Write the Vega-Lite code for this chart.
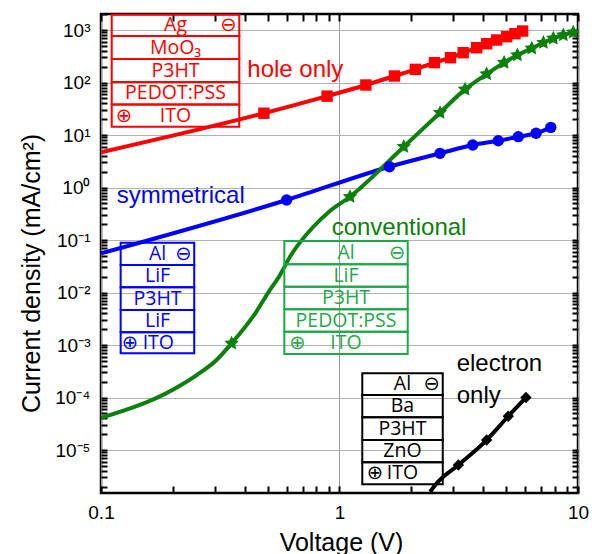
{
  "$schema": "https://vega.github.io/schema/vega-lite/v6.json",
  "width": 477,
  "height": 479,
  "autosize": "none",
  "padding": {"left": 101, "top": 14, "right": 19, "bottom": 61},
  "config": {"view": {"stroke": "black", "strokeWidth": 2.5}, "background": "white", "axis": {"ticks": true, "tickOpacity": 1}},
  "datasets": {
    "curves": [
      {"s": "hole", "V": 0.1, "J": 4.7}, {"s": "hole", "V": 0.482, "J": 26}, {"s": "hole", "V": 0.887, "J": 55}, {"s": "hole", "V": 1.29, "J": 89.6}, {"s": "hole", "V": 1.70, "J": 133}, {"s": "hole", "V": 2.08, "J": 178}, {"s": "hole", "V": 2.50, "J": 239}, {"s": "hole", "V": 2.92, "J": 297}, {"s": "hole", "V": 3.30, "J": 370}, {"s": "hole", "V": 3.76, "J": 460}, {"s": "hole", "V": 4.14, "J": 548}, {"s": "hole", "V": 4.56, "J": 645}, {"s": "hole", "V": 5.02, "J": 746}, {"s": "hole", "V": 5.44, "J": 851}, {"s": "hole", "V": 5.86, "J": 957},
      {"s": "sym", "V": 0.1, "J": 0.0557}, {"s": "sym", "V": 0.60, "J": 0.578}, {"s": "sym", "V": 1.62, "J": 2.49}, {"s": "sym", "V": 2.64, "J": 4.48}, {"s": "sym", "V": 3.62, "J": 6.45}, {"s": "sym", "V": 4.63, "J": 7.8}, {"s": "sym", "V": 5.62, "J": 9.3}, {"s": "sym", "V": 6.67, "J": 10.8}, {"s": "sym", "V": 7.69, "J": 14.0},
      {"s": "conv", "V": 0.1, "J": 4.1e-5}, {"s": "conv", "V": 0.201, "J": 1.43e-4}, {"s": "conv", "V": 0.252, "J": 2.68e-4}, {"s": "conv", "V": 0.305, "J": 5.2e-4}, {"s": "conv", "V": 0.353, "J": 1.08e-3}, {"s": "conv", "V": 0.447, "J": 4.25e-3}, {"s": "conv", "V": 0.501, "J": 9.77e-3}, {"s": "conv", "V": 0.563, "J": 0.0216}, {"s": "conv", "V": 0.62, "J": 0.048}, {"s": "conv", "V": 0.777, "J": 0.179}, {"s": "conv", "V": 0.912, "J": 0.357}, {"s": "conv", "V": 1.107, "J": 0.668}, {"s": "conv", "V": 1.86, "J": 6.0}, {"s": "conv", "V": 2.64, "J": 26.6}, {"s": "conv", "V": 3.36, "J": 74}, {"s": "conv", "V": 4.14, "J": 145}, {"s": "conv", "V": 4.90, "J": 239}, {"s": "conv", "V": 5.57, "J": 334}, {"s": "conv", "V": 6.40, "J": 448}, {"s": "conv", "V": 7.16, "J": 573}, {"s": "conv", "V": 7.88, "J": 693}, {"s": "conv", "V": 8.68, "J": 803}, {"s": "conv", "V": 9.55, "J": 904}, {"s": "conv", "V": 10, "J": 950},
      {"s": "elec", "V": 2.40, "J": 1.6e-6}, {"s": "elec", "V": 2.55, "J": 2.3e-6}, {"s": "elec", "V": 3.15, "J": 5.2e-6}, {"s": "elec", "V": 4.14, "J": 1.55e-5}, {"s": "elec", "V": 5.10, "J": 4.4e-5}, {"s": "elec", "V": 6.05, "J": 1.0e-4}
    ],
    "markers": [
      {"s": "hole", "V": 0.482, "J": 26}, {"s": "hole", "V": 0.887, "J": 55}, {"s": "hole", "V": 1.29, "J": 89.6}, {"s": "hole", "V": 1.70, "J": 133}, {"s": "hole", "V": 2.08, "J": 178}, {"s": "hole", "V": 2.50, "J": 239}, {"s": "hole", "V": 2.92, "J": 297}, {"s": "hole", "V": 3.30, "J": 370}, {"s": "hole", "V": 3.76, "J": 460}, {"s": "hole", "V": 4.14, "J": 548}, {"s": "hole", "V": 4.56, "J": 645}, {"s": "hole", "V": 5.02, "J": 746}, {"s": "hole", "V": 5.44, "J": 851}, {"s": "hole", "V": 5.86, "J": 957},
      {"s": "sym", "V": 0.60, "J": 0.578}, {"s": "sym", "V": 1.62, "J": 2.49}, {"s": "sym", "V": 2.64, "J": 4.48}, {"s": "sym", "V": 3.62, "J": 6.45}, {"s": "sym", "V": 4.63, "J": 7.8}, {"s": "sym", "V": 5.62, "J": 9.3}, {"s": "sym", "V": 6.67, "J": 10.8}, {"s": "sym", "V": 7.69, "J": 14.0},
      {"s": "conv", "V": 0.353, "J": 1.08e-3}, {"s": "conv", "V": 1.107, "J": 0.668}, {"s": "conv", "V": 1.86, "J": 6.0}, {"s": "conv", "V": 2.64, "J": 26.6}, {"s": "conv", "V": 3.36, "J": 74}, {"s": "conv", "V": 4.14, "J": 145}, {"s": "conv", "V": 4.90, "J": 239}, {"s": "conv", "V": 5.57, "J": 334}, {"s": "conv", "V": 6.40, "J": 448}, {"s": "conv", "V": 7.16, "J": 573}, {"s": "conv", "V": 7.88, "J": 693}, {"s": "conv", "V": 8.68, "J": 803}, {"s": "conv", "V": 9.55, "J": 904},
      {"s": "elec", "V": 3.15, "J": 5.2e-6}, {"s": "elec", "V": 4.14, "J": 1.55e-5}, {"s": "elec", "V": 5.10, "J": 4.4e-5}, {"s": "elec", "V": 6.05, "J": 1.0e-4}
    ],
    "boxes": [
      {"g": "hole", "V1": 0.1109, "V2": 0.380, "J1": 1950, "J2": 769}, {"g": "hole", "V1": 0.1109, "V2": 0.380, "J1": 769, "J2": 281}, {"g": "hole", "V1": 0.1109, "V2": 0.380, "J1": 281, "J2": 102}, {"g": "hole", "V1": 0.1109, "V2": 0.380, "J1": 102, "J2": 38.1}, {"g": "hole", "V1": 0.1109, "V2": 0.380, "J1": 38.1, "J2": 14.4},
      {"g": "sym", "V1": 0.1209, "V2": 0.246, "J1": 0.0889, "J2": 0.0334}, {"g": "sym", "V1": 0.1209, "V2": 0.246, "J1": 0.0334, "J2": 0.01256}, {"g": "sym", "V1": 0.1209, "V2": 0.246, "J1": 0.01256, "J2": 0.00464}, {"g": "sym", "V1": 0.1209, "V2": 0.246, "J1": 0.00464, "J2": 0.001745}, {"g": "sym", "V1": 0.1209, "V2": 0.246, "J1": 0.001745, "J2": 0.000695},
      {"g": "convbox", "V1": 0.587, "V2": 1.932, "J1": 0.0957, "J2": 0.0344}, {"g": "convbox", "V1": 0.587, "V2": 1.932, "J1": 0.0344, "J2": 0.0129}, {"g": "convbox", "V1": 0.587, "V2": 1.932, "J1": 0.0129, "J2": 0.00479}, {"g": "convbox", "V1": 0.587, "V2": 1.932, "J1": 0.00479, "J2": 0.00179}, {"g": "convbox", "V1": 0.587, "V2": 1.932, "J1": 0.00179, "J2": 0.000674},
      {"g": "elec", "V1": 1.246, "V2": 2.71, "J1": 2.89e-4, "J2": 1.116e-4}, {"g": "elec", "V1": 1.246, "V2": 2.71, "J1": 1.116e-4, "J2": 4.2e-5}, {"g": "elec", "V1": 1.246, "V2": 2.71, "J1": 4.2e-5, "J2": 1.55e-5}, {"g": "elec", "V1": 1.246, "V2": 2.71, "J1": 1.55e-5, "J2": 5.83e-6}, {"g": "elec", "V1": 1.246, "V2": 2.71, "J1": 5.83e-6, "J2": 2.22e-6}
    ],
    "boxtext": [
      {"g": "hole", "V": 0.2053, "J": 1273, "t": "Ag"}, {"g": "hole", "V": 0.2053, "J": 464, "t": "MoO₃"}, {"g": "hole", "V": 0.2053, "J": 169, "t": "P3HT"}, {"g": "hole", "V": 0.2053, "J": 63.1, "t": "PEDOT:PSS"}, {"g": "hole", "V": 0.2053, "J": 23.1, "t": "ITO"}, {"g": "hole", "V": 0.3418, "J": 1273, "t": "⊖"}, {"g": "hole", "V": 0.1249, "J": 23.1, "t": "⊕"},
      {"g": "sym", "V": 0.1726, "J": 0.0543, "t": "Al"}, {"g": "sym", "V": 0.1726, "J": 0.0204, "t": "LiF"}, {"g": "sym", "V": 0.1726, "J": 0.00762, "t": "P3HT"}, {"g": "sym", "V": 0.1726, "J": 0.00284, "t": "LiF"}, {"g": "sym", "V": 0.1739, "J": 0.0011, "t": "ITO"}, {"g": "sym", "V": 0.2214, "J": 0.0543, "t": "⊖"}, {"g": "sym", "V": 0.1323, "J": 0.0011, "t": "⊕"},
      {"g": "convbox", "V": 1.065, "J": 0.0573, "t": "Al"}, {"g": "convbox", "V": 1.065, "J": 0.0211, "t": "LiF"}, {"g": "convbox", "V": 1.065, "J": 0.00785, "t": "P3HT"}, {"g": "convbox", "V": 1.065, "J": 0.00293, "t": "PEDOT:PSS"}, {"g": "convbox", "V": 1.065, "J": 0.0011, "t": "ITO"}, {"g": "convbox", "V": 1.747, "J": 0.0573, "t": "⊖"}, {"g": "convbox", "V": 0.6654, "J": 0.0011, "t": "⊕"},
      {"g": "elec", "V": 1.837, "J": 1.79e-4, "t": "Al"}, {"g": "elec", "V": 1.837, "J": 6.83e-5, "t": "Ba"}, {"g": "elec", "V": 1.837, "J": 2.55e-5, "t": "P3HT"}, {"g": "elec", "V": 1.837, "J": 9.48e-6, "t": "ZnO"}, {"g": "elec", "V": 1.837, "J": 3.6e-6, "t": "ITO"}, {"g": "elec", "V": 2.436, "J": 1.79e-4, "t": "⊖"}, {"g": "elec", "V": 1.409, "J": 3.6e-6, "t": "⊕"}
    ],
    "labels": [
      {"g": "hole", "V": 0.4106, "J": 128.8, "t": "hole only"},
      {"g": "sym", "V": 0.1164, "J": 0.513, "t": "symmetrical"},
      {"g": "conv", "V": 0.927, "J": 0.1245, "t": "conventional"},
      {"g": "elec", "V": 3.10, "J": 3.24e-4, "t": "electron"},
      {"g": "elec", "V": 3.10, "J": 7.76e-5, "t": "only"}
    ]
  },
  "resolve": {"axis": {"x": "independent", "y": "independent"}},
  "layer": [
    {
      "data": {"name": "curves"},
      "mark": {"type": "line", "clip": true, "interpolate": "monotone"},
      "encoding": {
        "x": {"field": "V", "type": "quantitative", "scale": {"type": "log", "domain": [0.1, 10], "nice": false},
          "axis": {"orient": "bottom", "domain": false, "ticks": true,
            "values": [0.1,0.2,0.3,0.4,0.5,0.6,0.7,0.8,0.9,1,2,3,4,5,6,7,8,9,10],
            "labelExpr": "abs(log(datum.value)/LN10 - round(log(datum.value)/LN10)) < 0.01 ? (datum.value < 0.5 ? '0.1' : (datum.value < 5 ? '1' : '10')) : ''",
            "labelFont": "Liberation Sans", "labelFontSize": 19, "labelColor": "black", "labelPadding": 17, "labelFlush": false, "labelOverlap": false,
            "tickColor": "#000000", "tickWidth": 2, "tickSize": -7,
            "grid": true, "gridColor": "#999999", "gridWidth": 1,
            "gridOpacity": {"condition": {"test": "abs(log(datum.value)/LN10 - round(log(datum.value)/LN10)) < 0.01", "value": 1}, "value": 0},
            "title": "Voltage (V)", "titleFont": "Liberation Sans", "titleFontSize": 25, "titleFontWeight": "normal", "titleColor": "black",
            "titleX": 240, "titleY": 57, "titleBaseline": "alphabetic", "titleAlign": "center"}},
        "y": {"field": "J", "type": "quantitative", "scale": {"type": "log", "domain": [1.52e-6, 2018], "nice": false},
          "axis": {"orient": "left", "domain": false, "ticks": true,
            "values": [2e-6,3e-6,4e-6,5e-6,6e-6,7e-6,8e-6,9e-6,1e-5,2e-5,3e-5,4e-5,5e-5,6e-5,7e-5,8e-5,9e-5,1e-4,2e-4,3e-4,4e-4,5e-4,6e-4,7e-4,8e-4,9e-4,1e-3,2e-3,3e-3,4e-3,5e-3,6e-3,7e-3,8e-3,9e-3,0.01,0.02,0.03,0.04,0.05,0.06,0.07,0.08,0.09,0.1,0.2,0.3,0.4,0.5,0.6,0.7,0.8,0.9,1,2,3,4,5,6,7,8,9,10,20,30,40,50,60,70,80,90,100,200,300,400,500,600,700,800,900,1000,2000],
            "labelExpr": "abs(log(datum.value)/LN10 - round(log(datum.value)/LN10)) < 0.01 ? '10' + ['⁻⁶','⁻⁵','⁻⁴','⁻³','⁻²','⁻¹','⁰','¹','²','³'][round(log(datum.value)/LN10) + 6] : ''",
            "labelFont": "Liberation Sans", "labelFontSize": 19, "labelColor": "black", "labelPadding": 17, "labelFlush": false, "labelOverlap": false,
            "tickColor": "#000000", "tickWidth": 2, "tickSize": -6,
            "grid": true, "gridColor": "#b0b0b0", "gridWidth": 1,
            "gridOpacity": {"condition": {"test": "abs(log(datum.value)/LN10 - round(log(datum.value)/LN10)) < 0.01", "value": 1}, "value": 0},
            "title": "Current density (mA/cm²)", "titleFont": "Liberation Sans", "titleFontSize": 25, "titleFontWeight": "normal", "titleColor": "black",
            "titleX": -62, "titleY": 259, "titleBaseline": "alphabetic", "titleAlign": "center", "titleAngle": -90}},
        "color": {"field": "s", "type": "nominal", "scale": {"domain": ["hole", "sym", "conv", "elec", "convbox"], "range": ["#ff0000", "#0000ff", "#0b800b", "#000000", "#1fa84a"]}, "legend": null},
        "strokeWidth": {"field": "s", "type": "nominal", "scale": {"domain": ["hole", "sym", "conv", "elec"], "range": [4, 4, 3, 3]}, "legend": null}
      }
    },
    {
      "data": {"name": "markers"},
      "mark": {"type": "point", "filled": true, "opacity": 1, "clip": true},
      "encoding": {
        "x": {"field": "V", "type": "quantitative", "scale": {"type": "log", "domain": [0.1, 10], "nice": false},
          "axis": {"orient": "top", "domain": false, "labels": false, "grid": false, "title": null, "ticks": true,
            "values": [0.1,0.2,0.3,0.4,0.5,0.6,0.7,0.8,0.9,1,2,3,4,5,6,7,8,9,10],
            "tickColor": "#000000", "tickWidth": 2, "tickSize": -7}},
        "y": {"field": "J", "type": "quantitative", "scale": {"type": "log", "domain": [1.52e-6, 2018], "nice": false},
          "axis": {"orient": "right", "domain": false, "labels": false, "grid": false, "title": null, "ticks": true,
            "values": [2e-6,3e-6,4e-6,5e-6,6e-6,7e-6,8e-6,9e-6,1e-5,2e-5,3e-5,4e-5,5e-5,6e-5,7e-5,8e-5,9e-5,1e-4,2e-4,3e-4,4e-4,5e-4,6e-4,7e-4,8e-4,9e-4,1e-3,2e-3,3e-3,4e-3,5e-3,6e-3,7e-3,8e-3,9e-3,0.01,0.02,0.03,0.04,0.05,0.06,0.07,0.08,0.09,0.1,0.2,0.3,0.4,0.5,0.6,0.7,0.8,0.9,1,2,3,4,5,6,7,8,9,10,20,30,40,50,60,70,80,90,100,200,300,400,500,600,700,800,900,1000,2000],
            "tickColor": "#000000", "tickWidth": 2, "tickSize": -6}},
        "color": {"field": "s", "type": "nominal", "scale": {"domain": ["hole", "sym", "conv", "elec", "convbox"], "range": ["#ff0000", "#0000ff", "#0b800b", "#000000", "#1fa84a"]}, "legend": null},
        "shape": {"field": "s", "type": "nominal", "scale": {"domain": ["hole", "sym", "conv", "elec"], "range": ["square", "circle", "M0,-1L0.29,-0.4L0.951,-0.309L0.47,0.153L0.588,0.809L0,0.5L-0.588,0.809L-0.47,0.153L-0.951,-0.309L-0.29,-0.4Z", "diamond"]}, "legend": null},
        "size": {"condition": {"test": "datum.s == 'conv'", "value": 230}, "value": 130}
      }
    },
    {
      "data": {"name": "boxes"},
      "mark": {"type": "rect", "fillOpacity": 0, "strokeWidth": 2},
      "encoding": {
        "x": {"field": "V1", "type": "quantitative", "scale": {"type": "log", "domain": [0.1, 10], "nice": false}, "axis": null},
        "x2": {"field": "V2"},
        "y": {"field": "J1", "type": "quantitative", "scale": {"type": "log", "domain": [1.52e-6, 2018], "nice": false}, "axis": null},
        "y2": {"field": "J2"},
        "stroke": {"field": "g", "type": "nominal", "scale": {"domain": ["hole", "sym", "conv", "elec", "convbox"], "range": ["#ff0000", "#0000ff", "#0b800b", "#000000", "#1fa84a"]}, "legend": null}
      }
    },
    {
      "data": {"name": "boxtext"},
      "mark": {"type": "text", "font": "'Open Sans', 'DejaVu Sans'", "fontSize": 19.5, "align": "center", "baseline": "middle"},
      "encoding": {
        "x": {"field": "V", "type": "quantitative", "scale": {"type": "log", "domain": [0.1, 10], "nice": false}, "axis": null},
        "y": {"field": "J", "type": "quantitative", "scale": {"type": "log", "domain": [1.52e-6, 2018], "nice": false}, "axis": null},
        "text": {"field": "t"},
        "color": {"field": "g", "type": "nominal", "scale": {"domain": ["hole", "sym", "conv", "elec", "convbox"], "range": ["#ff0000", "#0000ff", "#0b800b", "#000000", "#1fa84a"]}, "legend": null}
      }
    },
    {
      "data": {"name": "labels"},
      "mark": {"type": "text", "font": "Liberation Sans", "fontSize": 24, "align": "left", "baseline": "alphabetic"},
      "encoding": {
        "x": {"field": "V", "type": "quantitative", "scale": {"type": "log", "domain": [0.1, 10], "nice": false}, "axis": null},
        "y": {"field": "J", "type": "quantitative", "scale": {"type": "log", "domain": [1.52e-6, 2018], "nice": false}, "axis": null},
        "text": {"field": "t"},
        "color": {"field": "g", "type": "nominal", "scale": {"domain": ["hole", "sym", "conv", "elec", "convbox"], "range": ["#ff0000", "#0000ff", "#0b800b", "#000000", "#1fa84a"]}, "legend": null}
      }
    }
  ]
}
